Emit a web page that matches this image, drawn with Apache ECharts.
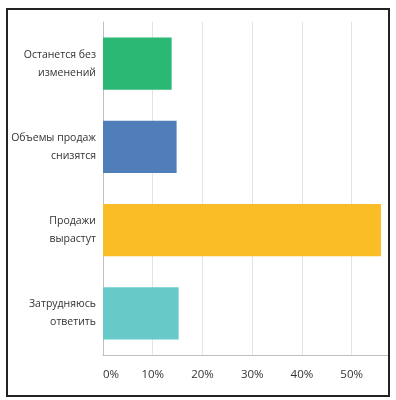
<!DOCTYPE html>
<html>
<head>
<meta charset="utf-8">
<script src="https://cdn.jsdelivr.net/npm/echarts@6/dist/echarts.min.js"></script>
<style>
    html, body { margin: 0; padding: 0; background: #fff; }
    #wrap { position: relative; width: 396px; height: 400px; }
    #container { width: 396px; height: 400px; }
    #frame { position: absolute; left: 6px; top: 8px; width: 380px; height: 385px;
             border: 2px solid #222; pointer-events: none; }
</style>
</head>
<body>
<div id="wrap">
    <div id="container"></div>
    <div id="frame"></div>
</div>
<script type="text/javascript">
    // ответы и доли, %
    var categories = ['Останется без\nизменений', 'Объемы продаж\nснизятся', 'Продажи\nвырастут', 'Затрудняюсь\nответить'];
    var values = [13.8, 14.8, 55.9, 15.2];
    var colors = ['#2bb774', '#4f7eb8', '#fbbd26', '#67c9c8'];
    var ticks = [0, 10, 20, 30, 40, 50];

    var myChart = echarts.init(document.getElementById('container'));
    var option = {
        animation: false,
        textStyle: { fontFamily: 'Open Sans' },
        grid: { left: 103, top: 22, right: 8, bottom: 45, containLabel: false, outerBoundsMode: 'none' },
        xAxis: {
            type: 'value',
            min: 0,
            max: 57.3,
            interval: 10,
            axisLine: { show: true, lineStyle: { color: '#bfbfbf', width: 1 } },
            axisTick: { show: false },
            splitLine: { lineStyle: { color: '#e3e3e3', width: 1 } },
            axisLabel: {
                margin: 14,
                color: '#333',
                fontSize: 11.5,
                alignMinLabel: 'left',
                formatter: function (v) {
                    return ticks.indexOf(v) >= 0 ? v + '%' : '';
                }
            }
        },
        yAxis: {
            type: 'category',
            inverse: true,
            data: categories,
            axisLine: { show: true, lineStyle: { color: '#bfbfbf', width: 1 } },
            axisTick: { show: false },
            axisLabel: { margin: 7, color: '#333', fontSize: 10.5, lineHeight: 18, align: 'right' }
        },
        series: [{
            type: 'bar',
            barCategoryGap: '37%',
            data: values.map(function (v, i) {
                return { value: v, itemStyle: { color: colors[i] } };
            })
        }]
    };
    myChart.setOption(option, true);
</script>
</body>
</html>
